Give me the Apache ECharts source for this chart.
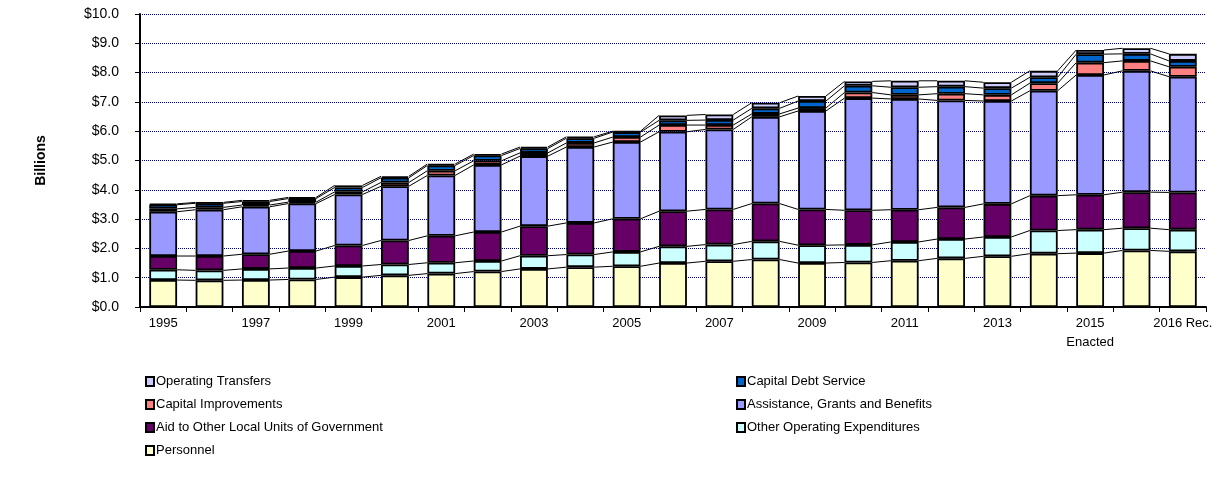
<!DOCTYPE html>
<html lang="en">
<head>
  <meta charset="UTF-8" />
  <title>Expenditures by Category</title>
  <script src="https://cdn.jsdelivr.net/npm/echarts@6/dist/echarts.min.js"></script>
  <style>
    body { margin: 0; background: #fff; }
    #chart { width: 1229px; height: 490px; }
  </style>
</head>
<body>
  <div id="chart"></div>

  <script>
    // fiscal years (every other label shown)
    const years = ['1995', '1996', '1997', '1998', '1999', '2000', '2001', '2002', '2003', '2004',
      '2005', '2006', '2007', '2008', '2009', '2010', '2011', '2012', '2013', '2014',
      '2015\nEnacted', '2015 Revised', '2016 Rec.'];

    // values in $ billions, bottom of the stack first
    const personnel = [0.92, 0.91, 0.92, 0.94, 1.02, 1.08, 1.14, 1.21, 1.30, 1.36, 1.39, 1.50, 1.56, 1.62, 1.50, 1.52, 1.58, 1.66, 1.73, 1.82, 1.84, 1.93, 1.90];
    const otherOperating = [0.35, 0.34, 0.38, 0.39, 0.38, 0.37, 0.37, 0.36, 0.45, 0.43, 0.49, 0.57, 0.57, 0.62, 0.61, 0.60, 0.64, 0.66, 0.66, 0.79, 0.80, 0.76, 0.74];
    const aidLocal = [0.47, 0.49, 0.50, 0.58, 0.70, 0.82, 0.92, 0.99, 1.01, 1.08, 1.13, 1.20, 1.20, 1.29, 1.22, 1.18, 1.10, 1.08, 1.13, 1.19, 1.19, 1.23, 1.27];
    const assistance = [1.51, 1.58, 1.62, 1.62, 1.74, 1.85, 2.06, 2.29, 2.39, 2.59, 2.62, 2.71, 2.73, 2.96, 3.36, 3.83, 3.78, 3.65, 3.51, 3.58, 4.09, 4.14, 3.95];
    const capitalImprovements = [0.10, 0.08, 0.06, 0.05, 0.09, 0.13, 0.16, 0.14, 0.11, 0.14, 0.17, 0.23, 0.15, 0.10, 0.10, 0.19, 0.14, 0.23, 0.21, 0.26, 0.42, 0.34, 0.34];
    const capitalDebt = [0.14, 0.14, 0.12, 0.12, 0.15, 0.16, 0.18, 0.18, 0.15, 0.16, 0.17, 0.16, 0.17, 0.19, 0.24, 0.23, 0.26, 0.24, 0.23, 0.20, 0.29, 0.24, 0.20];
    const operatingTransfers = [0.03, 0.03, 0.04, 0.04, 0.07, 0.05, 0.05, 0.05, 0.05, 0.05, 0.03, 0.17, 0.19, 0.19, 0.17, 0.15, 0.22, 0.20, 0.20, 0.22, 0.14, 0.19, 0.24];

    const yTicks = [0, 1, 2, 3, 4, 5, 6, 7, 8, 9, 10];

    const stack = [
      { name: 'Personnel', data: personnel, color: '#FFFFCC' },
      { name: 'Other Operating Expenditures', data: otherOperating, color: '#CCFFFF' },
      { name: 'Aid to Other Local Units of Government', data: aidLocal, color: '#660066' },
      { name: 'Assistance, Grants and Benefits', data: assistance, color: '#9999FF' },
      { name: 'Capital Improvements', data: capitalImprovements, color: '#FF8080' },
      { name: 'Capital Debt Service', data: capitalDebt, color: '#0066CC' },
      { name: 'Operating Transfers', data: operatingTransfers, color: '#CCCCFF' }
    ];

    const font = 'Liberation Sans, Arial, sans-serif';
    const BAR_SHARE = 0.6;

    // running tops of every segment, used for the series lines
    const tops = years.map((_, i) => {
      let sum = 0;
      return stack.map(s => (sum += s.data[i]));
    });
    const linkData = years.slice(0, -1).map((_, i) => [i].concat(tops[i], tops[i + 1]));

    const barSeries = stack.map(s => ({
      name: s.name,
      type: 'bar',
      stack: 'total',
      barWidth: (BAR_SHARE * 100) + '%',
      data: s.data,
      z: 3,
      itemStyle: { color: s.color, borderColor: '#000', borderWidth: 1.8 },
      emphasis: { disabled: true }
    }));

    const linkSeries = {
      type: 'custom',
      data: linkData,
      z: 2,
      silent: true,
      renderItem: function (params, api) {
        const i = api.value(0);
        const band = api.size([1, 0])[0];
        const half = band * BAR_SHARE / 2;
        const children = [];
        for (let k = 0; k < stack.length; k++) {
          const a = api.coord([i, api.value(1 + k)]);
          const b = api.coord([i + 1, api.value(1 + stack.length + k)]);
          children.push({
            type: 'line',
            shape: { x1: a[0] + half, y1: a[1], x2: b[0] - half, y2: b[1] },
            style: { stroke: '#000', lineWidth: 1 }
          });
        }
        return { type: 'group', children: children };
      }
    };

    const legendText = { fontSize: 13, color: '#000', fontFamily: font, padding: [0, 0, 0, -3] };

    const chart = echarts.init(document.getElementById('chart'));
    chart.setOption({
      animation: false,
      textStyle: { fontFamily: font },
      grid: { left: 140, right: 23, top: 14, bottom: 183, containLabel: false },
      legend: [
        {
          orient: 'vertical', left: 140, top: 370, itemGap: 10,
          itemWidth: 8, itemHeight: 9, icon: 'rect',
          textStyle: legendText,
          data: ['Operating Transfers', 'Capital Improvements', 'Aid to Other Local Units of Government', 'Personnel']
        },
        {
          orient: 'vertical', left: 731, top: 370, itemGap: 10,
          itemWidth: 8, itemHeight: 9, icon: 'rect',
          textStyle: legendText,
          data: ['Capital Debt Service', 'Assistance, Grants and Benefits', 'Other Operating Expenditures']
        }
      ],
      xAxis: {
        type: 'category',
        data: years,
        axisLine: { lineStyle: { color: '#000', width: 2 } },
        axisTick: { show: true, interval: 0, length: 5, lineStyle: { color: '#000', width: 1 } },
        axisLabel: { interval: 1, color: '#000', fontSize: 13, margin: 7, lineHeight: 19 }
      },
      yAxis: {
        type: 'value',
        min: yTicks[0],
        max: yTicks[yTicks.length - 1],
        interval: 1,
        name: 'Billions',
        nameLocation: 'middle',
        nameGap: 92,
        nameTextStyle: { fontWeight: 'bold', fontSize: 14, color: '#000' },
        axisLine: { show: true, lineStyle: { color: '#000', width: 2 } },
        axisTick: { show: true, length: 5, lineStyle: { color: '#000' } },
        axisLabel: { color: '#000', fontSize: 14, margin: 21, formatter: v => '$' + v.toFixed(1) },
        splitLine: { lineStyle: { color: '#000080', type: 'dotted', width: 1 } }
      },
      series: barSeries.concat([linkSeries])
    });
  </script>
</body>
</html>
